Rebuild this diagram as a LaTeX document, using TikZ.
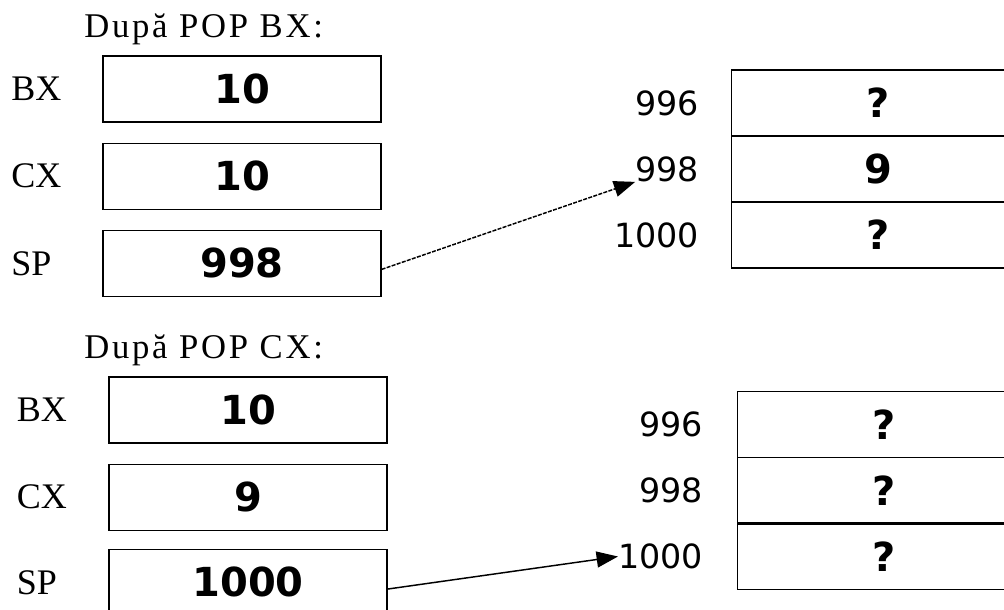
\documentclass[tikz,border=0pt]{standalone}
\usepackage{fontspec}
\setmainfont{Liberation Serif}
\newfontfamily\numfont{DejaVu Sans}
\newfontfamily\titlefont[LetterSpace=8]{Liberation Serif}
\usetikzlibrary{positioning,arrows.meta}

\tikzset{
  reg/.style={draw, line width=0.9pt, minimum width=208.5pt, minimum height=49.5pt,
    inner sep=0pt, font=\numfont\bfseries\fontsize{30}{30}\selectfont},
  regname/.style={inner sep=0pt, text width=40pt, align=left, font=\fontsize{27}{30}\selectfont},
  cell/.style={draw, line width=0.9pt, minimum width=220pt, minimum height=49.5pt,
    inner sep=0pt, outer sep=0pt, font=\numfont\bfseries\fontsize{30}{30}\selectfont},
  addr/.style={inner sep=0pt, font=\numfont\fontsize{25}{30}\selectfont},
  caption/.style={inner sep=0pt, anchor=base west, font=\titlefont\fontsize{26}{30}\selectfont},
  ptr/.style={-{Triangle[length=16pt,width=12pt]}, line width=1.1pt},
}

\begin{document}
\begin{tikzpicture}[x=0.75pt, y=0.75pt]
        \useasboundingbox (0,0) rectangle (1004,-610);
        \clip (0,0) rectangle (1004,-610);

        % after POP BX
        \node[caption] (titleA) at (84,-38) {După POP BX:};
        \node[reg] (bxA) at (242,-89) {10};
        \node[reg, below=15pt of bxA] (cxA) {10};
        \node[reg, below=15pt of cxA] (spA) {998};
        \node[regname, left=28pt of bxA] (bxnameA) {BX};
        \node[regname, left=28pt of cxA] (cxnameA) {CX};
        \node[regname, left=28pt of spA] (spnameA) {SP};

        \node[cell] (m996A) at (878,-103) {?};
        \node[cell, below=0pt of m996A] (m998A) {9};
        \node[cell, below=0pt of m998A] (m1000A) {?};
        \draw[line width=1.8pt] (m998A.south west) -- (m998A.south east);
        \node[addr, left=24pt of m996A] (a996A) {996};
        \node[addr, left=24pt of m998A] (a998A) {998};
        \node[addr, left=24pt of m1000A] (a1000A) {1000};

        \draw[ptr, dash pattern=on 3pt off 1pt] ([yshift=-4.5pt]spA.east) -- (a998A.south west);

        % after POP CX
        \node[caption] (titleB) at (84,-358) {După POP CX:};
        \node[reg] (bxB) at (248,-410) {10};
        \node[reg, below=15pt of bxB] (cxB) {9};
        \node[reg, below=13.5pt of cxB] (spB) {1000};
        \node[regname, left=28.5pt of bxB] (bxnameB) {BX};
        \node[regname, left=28.5pt of cxB] (cxnameB) {CX};
        \node[regname, left=28.5pt of spB] (spnameB) {SP};

        \node[cell] (m996B) at (884,-424.5) {?};
        \node[cell, below=0pt of m996B] (m998B) {?};
        \node[cell, below=0pt of m998B] (m1000B) {?};
        \draw[line width=1.8pt] (m998B.south west) -- (m998B.south east);
        \node[addr, left=25.5pt of m996B] (a996B) {996};
        \node[addr, left=25.5pt of m998B] (a998B) {998};
        \node[addr, left=25.5pt of m1000B] (a1000B) {1000};

        \draw[ptr] ([yshift=-5pt]spB.east) -- (a1000B.west);
\end{tikzpicture}
\end{document}
